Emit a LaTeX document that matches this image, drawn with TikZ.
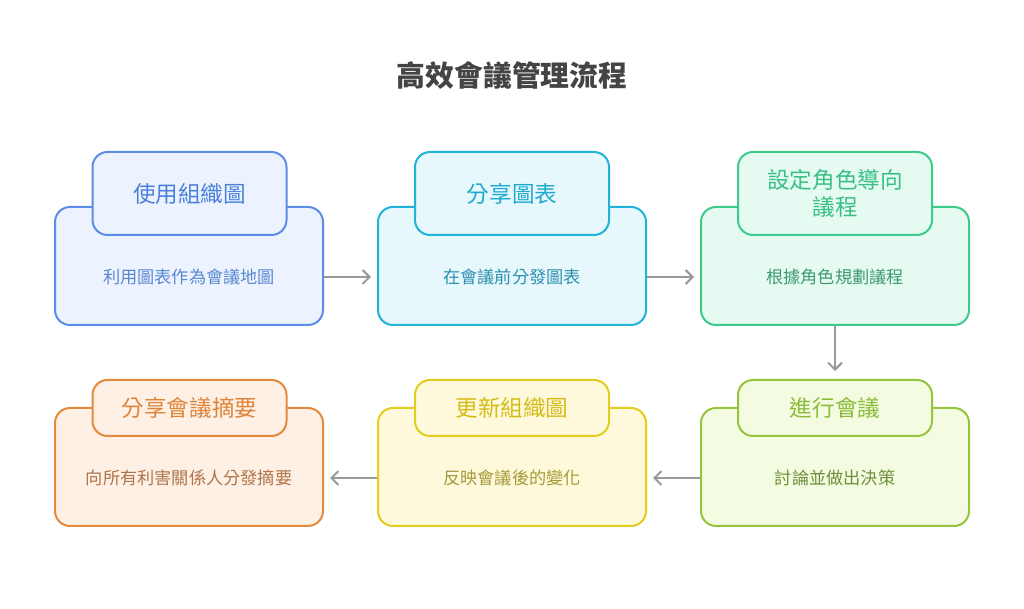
\documentclass[tikz,border=0pt]{standalone}
\usepackage{fontspec}
\setmainfont{Noto Sans CJK TC}
\usetikzlibrary{arrows.meta}
\definecolor{bS}{HTML}{5B8DE6}\definecolor{bF}{HTML}{EDF3FE}\definecolor{bT}{HTML}{4A80DA}\definecolor{bB}{HTML}{5A87D2}
\definecolor{cS}{HTML}{22B3D8}\definecolor{cF}{HTML}{E7F8FD}\definecolor{cT}{HTML}{1EA9CF}\definecolor{cB}{HTML}{2B8FAE}
\definecolor{gS}{HTML}{3DCB8C}\definecolor{gF}{HTML}{E5FBF2}\definecolor{gT}{HTML}{3ABF84}\definecolor{gB}{HTML}{3E9A70}
\definecolor{lS}{HTML}{97C43D}\definecolor{lF}{HTML}{F3FBE1}\definecolor{lT}{HTML}{8CBB3A}\definecolor{lB}{HTML}{6E8F3A}
\definecolor{yS}{HTML}{E3CD1E}\definecolor{yF}{HTML}{FEF9DA}\definecolor{yT}{HTML}{D4BC18}\definecolor{yB}{HTML}{A39A3A}
\definecolor{oS}{HTML}{E48A3C}\definecolor{oF}{HTML}{FEF0E4}\definecolor{oT}{HTML}{E0843A}\definecolor{oB}{HTML}{B0744A}
\definecolor{arr}{HTML}{999999}
\definecolor{ttl}{HTML}{444444}
\tikzset{
  bigbox/.style={rectangle, rounded corners=15pt, line width=2pt, minimum width=268pt, inner sep=0pt},
  capbox/.style={rectangle, rounded corners=15pt, line width=2pt, minimum width=194pt, inner sep=0pt, align=center, font=\fontsize{22.6}{27}\selectfont},
  bodytxt/.style={font=\fontsize{17.2}{20}\selectfont, inner sep=0pt},
  flow/.style={draw=arr, line width=2pt, -{Straight Barb[length=7pt,width=14pt,line width=2pt]}},
}
\begin{document}
\begin{tikzpicture}[x=1pt,y=1pt]
\useasboundingbox (0,0) rectangle (1024,609);
\fill[white] (0,0) rectangle (1024,609);
\node[font=\bfseries\fontsize{28.8}{32}\selectfont, text=ttl] (title) at (512,534) {高效會議管理流程};
% top row
\node[bigbox, draw=bS, fill=bF, minimum height=118pt] (b1) at (189,343) {};
\node[capbox, draw=bS, fill=bF, minimum height=83pt, text=bT] (c1) at (189.5,415.5) {使用組織圖};
\node[bodytxt, text=bB] (t1) at (189,332) {利用圖表作為會議地圖};
\node[bigbox, draw=cS, fill=cF, minimum height=118pt] (b2) at (512,343) {};
\node[capbox, draw=cS, fill=cF, minimum height=83pt, text=cT] (c2) at (512,415.5) {分享圖表};
\node[bodytxt, text=cB] (t2) at (512,332) {在會議前分發圖表};
\node[bigbox, draw=gS, fill=gF, minimum height=118pt] (b3) at (835,343) {};
\node[capbox, draw=gS, fill=gF, minimum height=83pt, text=gT] (c3) at (835,415.5) {設定角色導向\\議程};
\node[bodytxt, text=gB] (t3) at (835,332) {根據角色規劃議程};
% bottom row
\node[bigbox, draw=lS, fill=lF, minimum height=118pt] (b4) at (835,142) {};
\node[capbox, draw=lS, fill=lF, minimum height=56pt, text=lT] (c4) at (835,201) {進行會議};
\node[bodytxt, text=lB] (t4) at (835,131) {討論並做出決策};
\node[bigbox, draw=yS, fill=yF, minimum height=118pt] (b5) at (512,142) {};
\node[capbox, draw=yS, fill=yF, minimum height=56pt, text=yT] (c5) at (512,201) {更新組織圖};
\node[bodytxt, text=yB] (t5) at (512,131) {反映會議後的變化};
\node[bigbox, draw=oS, fill=oF, minimum height=118pt] (b6) at (189,142) {};
\node[capbox, draw=oS, fill=oF, minimum height=56pt, text=oT] (c6) at (189.5,201) {分享會議摘要};
\node[bodytxt, text=oB] (t6) at (189,131) {向所有利害關係人分發摘要};
% connectors
\draw[flow] (b1.east |- 0,332) -- ([xshift=-6pt]b2.west |- 0,332);
\draw[flow] (b2.east |- 0,332) -- ([xshift=-6pt]b3.west |- 0,332);
\draw[flow] (b3.south) -- ([yshift=8pt]c4.north);
\draw[flow] (b4.west |- 0,131) -- ([xshift=6pt]b5.east |- 0,131);
\draw[flow] (b5.west |- 0,131) -- ([xshift=6pt]b6.east |- 0,131);
\end{tikzpicture}
\end{document}
